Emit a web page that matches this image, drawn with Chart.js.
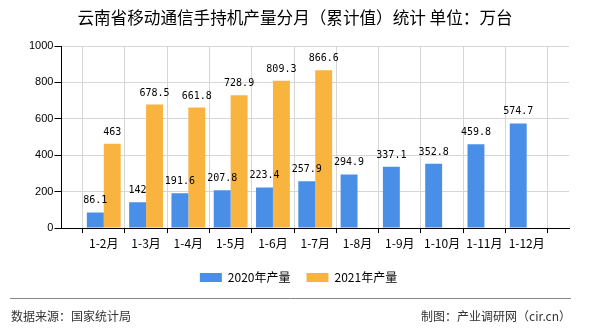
<!DOCTYPE html>
<html>
<head>
<meta charset="utf-8">
<script src="https://cdn.jsdelivr.net/npm/chart.js@4"></script>
<style>
  html, body { margin: 0; padding: 0; background: #fff; }
  #wrap { position: relative; width: 590px; height: 330px; }
</style>
</head>
<body>
<div id="wrap"><canvas id="chart" width="590" height="330"></canvas></div>
<script>
// chart data
const months = ['1-2月', '1-3月', '1-4月', '1-5月', '1-6月', '1-7月', '1-8月', '1-9月', '1-10月', '1-11月', '1-12月'];
const output2020 = [86.1, 142, 191.6, 207.8, 223.4, 257.9, 294.9, 337.1, 352.8, 459.8, 574.7];
const output2021 = [463, 678.5, 661.8, 728.9, 809.3, 866.6, null, null, null, null, null];
const yTicks = [0, 200, 400, 600, 800, 1000];

const colors = {
    blue: '#4a8fe7',
    orange: '#f9b440',
    grid: '#d6d6d6',
    text: '#000'
};
const cjk = '"Noto Sans CJK SC", sans-serif';

// months sit on x = 1..n, with an empty slot on each side like the original
const toPoints = arr => arr.map((v, i) => ({ x: i + 1, y: v }));

// value labels above bars + title + footer
const decorPlugin = {
    id: 'decor',
    afterDatasetsDraw(chart) {
        const ctx = chart.ctx;
        ctx.save();
        ctx.fillStyle = colors.text;
        ctx.font = '10px "DejaVu Sans Mono", monospace';
        ctx.textAlign = 'center';
        ctx.textBaseline = 'alphabetic';
        chart.data.datasets.forEach((ds, i) => {
            const meta = chart.getDatasetMeta(i);
            meta.data.forEach((bar, j) => {
                const v = ds.data[j].y;
                if (v === null || v === undefined) return;
                ctx.fillText(String(v), bar.x, bar.y - 9);
            });
        });
        ctx.restore();
    },
    afterDraw(chart) {
        const ctx = chart.ctx;
        ctx.save();
        ctx.fillStyle = colors.text;
        ctx.font = '16.6px ' + cjk;
        ctx.textAlign = 'center';
        ctx.textBaseline = 'middle';
        ctx.fillText('云南省移动通信手持机产量分月（累计值）统计 单位：万台', 295, 18);

        ctx.strokeStyle = '#888';
        ctx.lineWidth = 1;
        ctx.beginPath();
        ctx.moveTo(10, 298.5);
        ctx.lineTo(571, 298.5);
        ctx.stroke();

        ctx.fillStyle = '#333';
        ctx.font = '12px ' + cjk;
        ctx.textAlign = 'left';
        ctx.fillText('数据来源：国家统计局', 11, 316);
        ctx.textAlign = 'right';
        ctx.fillText('制图：产业调研网（cir.cn）', 571, 316);
        ctx.restore();
    }
};

new Chart(document.getElementById('chart'), {
    type: 'bar',
    data: {
        datasets: [
            {
                label: '2020年产量',
                data: toPoints(output2020),
                backgroundColor: colors.blue,
                barPercentage: 1.0,
                categoryPercentage: 0.8
            },
            {
                label: '2021年产量',
                data: toPoints(output2021),
                backgroundColor: colors.orange,
                barPercentage: 1.0,
                categoryPercentage: 0.8
            }
        ]
    },
    options: {
        responsive: false,
        animation: false,
        layout: {
            padding: { left: 28, right: 21, top: 46, bottom: 36.5 }
        },
        plugins: {
            legend: {
                position: 'bottom',
                labels: {
                    color: '#000',
                    boxWidth: 22,
                    boxHeight: 9,
                    padding: 16,
                    font: { size: 12, family: cjk }
                }
            },
            tooltip: { enabled: false }
        },
        scales: {
            x: {
                type: 'linear',
                min: 0,
                max: months.length + 1,
                offset: false,
                afterFit(axis) {
                    axis.height += 2;
                },
                grid: {
                    color: colors.grid,
                    tickLength: 5,
                    tickColor: '#000'
                },
                border: { color: '#000' },
                ticks: {
                    stepSize: 1,
                    autoSkip: false,
                    color: '#000',
                    font: { size: 12, family: cjk },
                    maxRotation: 0,
                    padding: 3,
                    callback: v => months[v - 1] || ''
                }
            },
            y: {
                min: 0,
                max: 1000,
                afterBuildTicks(axis) {
                    axis.ticks = yTicks.map(v => ({ value: v }));
                },
                grid: {
                    color: colors.grid,
                    tickLength: 7,
                    tickColor: '#000'
                },
                border: { color: '#000' },
                ticks: {
                    color: '#000',
                    font: { size: 11, family: '"Liberation Sans", sans-serif' },
                    padding: 1,
                    callback: v => String(v)
                }
            }
        }
    },
    plugins: [decorPlugin]
});
</script>
</body>
</html>
